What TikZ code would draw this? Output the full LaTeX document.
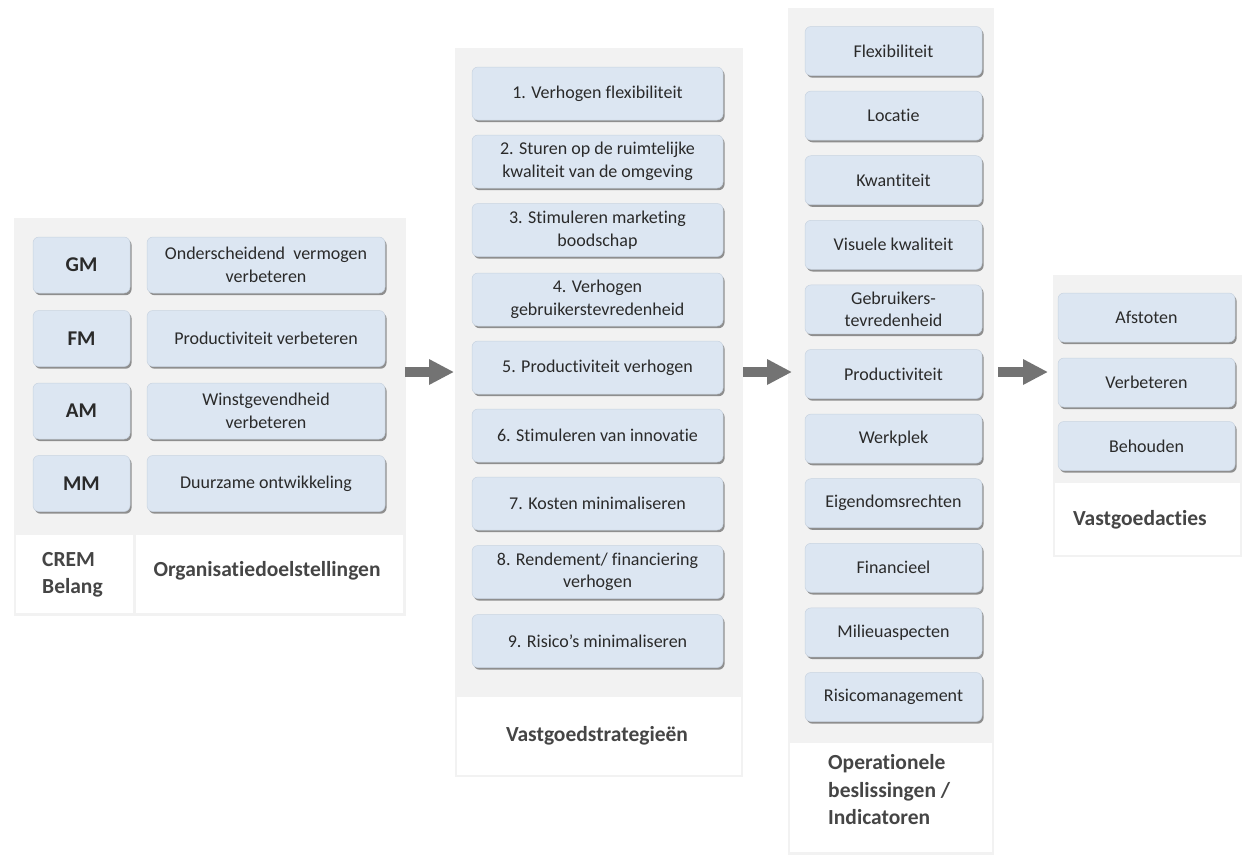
\documentclass[tikz,border=0pt]{standalone}
\usepackage{fontspec}
\setmainfont{Carlito}[Ligatures={NoCommon}]
\usetikzlibrary{shadows,arrows.meta}
\definecolor{panelgray}{HTML}{F2F2F2}
\definecolor{boxblue}{HTML}{DCE6F2}
\definecolor{boxline}{HTML}{C8D3E0}
\definecolor{txt}{HTML}{2A2A2A}
\definecolor{lbl}{HTML}{454545}
\definecolor{arrowgray}{HTML}{737373}
\begin{document}
\begin{tikzpicture}[x=1pt,y=-1pt,
  box/.style={rounded corners=6pt, fill=boxblue, draw=boxline, line width=0.5pt,
    drop shadow={shadow xshift=1.6pt,shadow yshift=-2.2pt,fill=black!65,opacity=0.65},
    align=center, text=txt, inner sep=0pt, font=\fontsize{18}{22.5}\selectfont},
  codebox/.style={box, minimum width=97pt, minimum height=56pt, font=\bfseries\fontsize{21}{24}\selectfont},
  goalbox/.style={box, minimum width=238pt, minimum height=56pt},
  stratbox/.style={box, minimum width=251pt, minimum height=53pt},
  opbox/.style={box, minimum width=177pt, minimum height=49pt, font=\fontsize{18}{22}\selectfont},
  actbox/.style={box, minimum width=177pt, minimum height=49pt, font=\fontsize{18}{22}\selectfont},
  paneltitle/.style={text=lbl, font=\bfseries\fontsize{21.5}{27.5}\selectfont, inner sep=0pt},
  flow/.style={arrowgray, line width=10pt, -{Triangle[length=25pt,width=24pt]}}
]
\useasboundingbox (0,0) rectangle (1242,855);
\fill[white] (0,0) rectangle (1242,855);

% panels
\fill[panelgray] (14,218) rectangle (406,616);
\fill[white] (16,535) rectangle (133,613);
\fill[white] (136,535) rectangle (403,613);

\fill[panelgray] (455,48) rectangle (743,777);
\fill[white] (457,697) rectangle (741,775);

\fill[panelgray] (788,8) rectangle (994,855);
\fill[white] (790,743) rectangle (992,852);

\fill[panelgray] (1053,275) rectangle (1242,557);
\fill[white] (1055,483) rectangle (1240,555);

% panel 1
\node[codebox] (gm) at (81.5,265) {GM};
\node[codebox] (fm) at (81.5,338.5) {FM};
\node[codebox] (am) at (81.5,411) {AM};
\node[codebox] (mm) at (81.5,483.5) {MM};
\node[goalbox] (g1) at (266,265) {Onderscheidend\ \ vermogen\\verbeteren};
\node[goalbox] (g2) at (266,338.5) {Productiviteit verbeteren};
\node[goalbox] (g3) at (266,411) {Winstgevendheid\\verbeteren};
\node[goalbox] (g4) at (266,483.5) {Duurzame ontwikkeling};
\node[paneltitle, align=left, anchor=west] (crem) at (42,575) {CREM\\Belang};
\node[paneltitle] (org) at (267,571) {Organisatiedoelstellingen};

% panel 2
\node[stratbox] (s1) at (597.5,93.5) {1. Verhogen flexibiliteit};
\node[stratbox] (s2) at (597.5,161.5) {2. Sturen op de ruimtelijke\\kwaliteit van de omgeving};
\node[stratbox] (s3) at (597.5,230) {3. Stimuleren marketing\\boodschap};
\node[stratbox] (s4) at (597.5,299.5) {4. Verhogen\\gebruikerstevredenheid};
\node[stratbox] (s5) at (597.5,367.5) {5. Productiviteit verhogen};
\node[stratbox] (s6) at (597.5,435.5) {6. Stimuleren van innovatie};
\node[stratbox] (s7) at (597.5,503.5) {7. Kosten minimaliseren};
\node[stratbox] (s8) at (597.5,572) {8. Rendement/ financiering\\verhogen};
\node[stratbox] (s9) at (597.5,641) {9. Risico’s minimaliseren};
\node[paneltitle] (strat) at (597,736) {Vastgoedstrategieën};

% panel 3
\node[opbox] (o1) at (893.5,51) {Flexibiliteit};
\node[opbox] (o2) at (893.5,115.6) {Locatie};
\node[opbox] (o3) at (893.5,180.2) {Kwantiteit};
\node[opbox] (o4) at (893.5,244.8) {Visuele kwaliteit};
\node[opbox] (o5) at (893.5,309.4) {Gebruikers-\\tevredenheid};
\node[opbox] (o6) at (893.5,374) {Productiviteit};
\node[opbox] (o7) at (893.5,438.6) {Werkplek};
\node[opbox] (o8) at (893.5,503.2) {Eigendomsrechten};
\node[opbox] (o9) at (893.5,567.8) {Financieel};
\node[opbox] (o10) at (893.5,632.4) {Milieuaspecten};
\node[opbox] (o11) at (893.5,697) {Risicomanagement};
\node[paneltitle, align=left, anchor=west] (oper) at (828,790) {Operationele\\beslissingen /\\Indicatoren};

% panel 4
\node[actbox] (a1) at (1146.5,317.5) {Afstoten};
\node[actbox] (a2) at (1146.5,382.5) {Verbeteren};
\node[actbox] (a3) at (1146.5,446) {Behouden};
\node[paneltitle] (act) at (1140,520) {Vastgoedacties};

% arrows
\coordinate (f1s) at (405,372);
\coordinate (f1e) at (454,372);
\coordinate (f2s) at (743,372);
\coordinate (f2e) at (792,372);
\coordinate (f3s) at (998,372);
\coordinate (f3e) at (1048,372);
\draw[flow] (f1s) -- (f1e);
\draw[flow] (f2s) -- (f2e);
\draw[flow] (f3s) -- (f3e);
\end{tikzpicture}
\end{document}
